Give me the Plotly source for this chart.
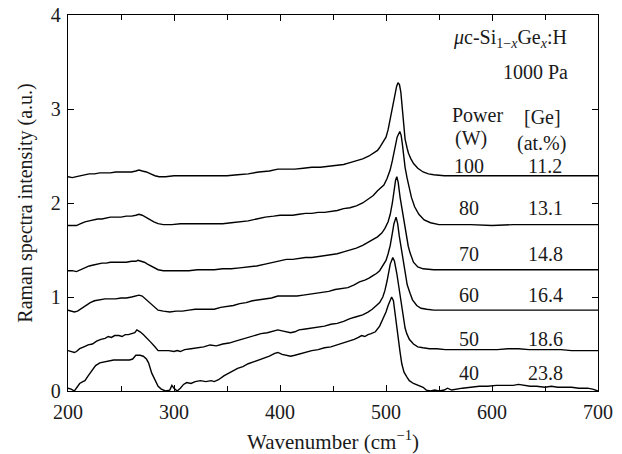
import plotly.graph_objects as go

# Raman spectra of uc-Si1-xGex:H films deposited at 1000 Pa, offset vertically by RF power

x40 = [200, 203, 206, 209, 211, 214, 216, 219, 222, 226, 230, 234, 238, 243, 248, 253, 258, 261, 264, 268,
       271, 274, 276, 279, 282, 285, 288, 292, 296, 298, 300, 303, 306, 309, 312, 316, 320, 325, 330, 335,
       338, 342, 347, 350, 355, 360, 365, 370, 375, 380, 385, 390, 395, 398, 402, 406, 410, 414, 420, 425,
       430, 436, 442, 448, 454, 460, 465, 470, 474, 477, 480, 483, 486, 490, 494, 497, 500, 502, 504, 505.3,
       507, 508.6, 510, 511.7, 513.3, 514.9, 517, 519.6, 522, 525.9, 530, 535, 538, 542, 546, 550, 555, 558,
       562, 566, 572, 580, 588, 596, 604, 612, 620, 625, 630, 636, 642, 650, 656, 662, 668, 675, 682, 690,
       695, 700]
y40 = [0.03, 0.02, 0.00, 0.05, 0.08, 0.10, 0.11, 0.16, 0.21, 0.27, 0.30, 0.31, 0.32, 0.33, 0.33, 0.33, 0.33, 0.34, 0.38, 0.38,
       0.37, 0.34, 0.30, 0.19, 0.11, 0.05, 0.02, 0.00, 0.01, 0.06, 0.03, 0.00, 0.03, 0.07, 0.09, 0.08, 0.10, 0.11, 0.10, 0.11,
       0.10, 0.12, 0.16, 0.18, 0.21, 0.24, 0.26, 0.29, 0.31, 0.33, 0.35, 0.37, 0.40, 0.41, 0.39, 0.38, 0.37, 0.38, 0.40, 0.41,
       0.43, 0.44, 0.46, 0.47, 0.49, 0.51, 0.53, 0.55, 0.57, 0.59, 0.58, 0.60, 0.61, 0.63, 0.69, 0.76, 0.84, 0.91, 0.97, 1.00,
       0.96, 0.81, 0.67, 0.54, 0.41, 0.29, 0.20, 0.15, 0.11, 0.08, 0.06, 0.04, 0.01, 0.00, 0.01, 0.00, 0.01, 0.03,
       0.01, 0.02, 0.03, 0.04, 0.05, 0.05, 0.06, 0.06, 0.06, 0.07, 0.06, 0.05, 0.05, 0.04, 0.05, 0.04, 0.04, 0.04, 0.03, 0.03,
       0.02, 0.00]

x50 = [200, 203, 206, 208, 211, 215, 219, 223, 227, 231, 235, 238, 241, 244, 248, 251, 254, 257, 260, 263,
       265, 268, 271, 274, 278, 282, 285, 290, 295, 300, 303, 306, 310, 316, 322, 328, 334, 340, 346, 352,
       358, 364, 370, 376, 382, 388, 394, 398, 402, 406, 410, 414, 418, 424, 430, 436, 442, 448, 454, 460,
       466, 472, 478, 483, 487, 491, 494, 497, 499, 501, 502.3, 504, 506.4, 508, 510.2, 511.8, 513.3, 515, 516.4, 518,
       519.6, 522, 525.9, 530, 535, 541, 548, 556, 565, 575, 585, 595, 605, 615, 625, 635, 645, 655, 665, 675,
       685, 695, 700]
y50 = [0.43, 0.42, 0.41, 0.42, 0.45, 0.47, 0.49, 0.50, 0.53, 0.55, 0.56, 0.58, 0.57, 0.59, 0.59, 0.58, 0.60, 0.60, 0.61, 0.62,
       0.65, 0.63, 0.60, 0.57, 0.52, 0.47, 0.43, 0.43, 0.43, 0.42, 0.43, 0.42, 0.44, 0.45, 0.46, 0.47, 0.49, 0.48, 0.50, 0.51,
       0.53, 0.55, 0.57, 0.59, 0.61, 0.62, 0.64, 0.65, 0.64, 0.63, 0.62, 0.63, 0.65, 0.66, 0.67, 0.68, 0.69, 0.71, 0.72, 0.74,
       0.77, 0.79, 0.81, 0.84, 0.87, 0.91, 0.94, 1.00, 1.07, 1.17, 1.25, 1.35, 1.42, 1.38, 1.25, 1.12, 1.00, 0.86, 0.75, 0.67,
       0.61, 0.55, 0.50, 0.47, 0.46, 0.45, 0.45, 0.44, 0.44, 0.44, 0.44, 0.44, 0.44, 0.45, 0.45, 0.44, 0.44, 0.44, 0.44, 0.43,
       0.43, 0.43, 0.43]

x60 = [200, 203, 206, 209, 213, 217, 221, 225, 230, 235, 240, 245, 250, 255, 260, 264, 267, 270, 273, 277,
       281, 285, 290, 296, 302, 308, 314, 320, 326, 332, 338, 344, 350, 356, 362, 368, 374, 380, 386, 392,
       398, 404, 410, 416, 422, 428, 434, 440, 446, 452, 458, 464, 470, 475, 480, 484, 488, 491, 494, 497,
       500, 502, 504, 506, 507.5, 509.5, 511, 512.5, 514, 515.5, 518, 520, 522.7, 525, 529, 533, 538.5, 545, 555, 570,
       585, 600, 615, 630, 645, 660, 675, 690, 700]
y60 = [0.86, 0.85, 0.84, 0.85, 0.88, 0.91, 0.94, 0.96, 0.97, 0.98, 0.98, 0.98, 0.99, 0.99, 1.00, 1.01, 1.02, 1.01, 0.98, 0.95,
       0.90, 0.86, 0.85, 0.84, 0.85, 0.85, 0.86, 0.87, 0.87, 0.87, 0.87, 0.89, 0.90, 0.91, 0.93, 0.94, 0.96, 0.97, 0.98, 0.99,
       1.01, 1.01, 1.01, 1.01, 1.02, 1.03, 1.04, 1.05, 1.06, 1.08, 1.09, 1.10, 1.13, 1.16, 1.18, 1.20, 1.23, 1.25, 1.28, 1.33,
       1.39, 1.46, 1.55, 1.68, 1.78, 1.85, 1.78, 1.65, 1.55, 1.45, 1.25, 1.13, 1.04, 0.97, 0.91, 0.88, 0.87, 0.86, 0.86, 0.86,
       0.86, 0.86, 0.86, 0.86, 0.86, 0.86, 0.86, 0.86, 0.86]

x70 = [200, 204, 208, 212, 216, 220, 224, 228, 232, 236, 240, 245, 250, 255, 260, 264, 266, 269, 272, 275,
       278, 281, 285, 290, 298, 306, 314, 322, 330, 338, 346, 354, 362, 370, 378, 386, 394, 400, 406, 412,
       418, 424, 430, 436, 442, 448, 454, 460, 466, 472, 478, 483, 488, 492, 496, 499, 502, 504, 506, 507.5,
       509, 510.2, 511.5, 513.3, 515, 516.4, 518, 519.6, 521, 522.7, 525.9, 530, 535, 545, 560, 580, 600, 620, 640, 660,
       680, 700]
y70 = [1.28, 1.28, 1.27, 1.29, 1.31, 1.33, 1.34, 1.35, 1.36, 1.36, 1.37, 1.37, 1.37, 1.37, 1.38, 1.38, 1.39, 1.38, 1.37, 1.35,
       1.33, 1.31, 1.29, 1.28, 1.28, 1.28, 1.28, 1.29, 1.29, 1.29, 1.30, 1.30, 1.31, 1.32, 1.33, 1.35, 1.37, 1.39, 1.40, 1.40,
       1.41, 1.42, 1.42, 1.43, 1.44, 1.45, 1.46, 1.48, 1.50, 1.52, 1.55, 1.58, 1.61, 1.64, 1.68, 1.73, 1.80, 1.88, 2.00, 2.14,
       2.24, 2.28, 2.22, 2.06, 1.94, 1.85, 1.74, 1.62, 1.54, 1.47, 1.37, 1.32, 1.30, 1.29, 1.29, 1.29, 1.29, 1.29, 1.29, 1.29,
       1.29, 1.29]

x80 = [200, 204, 208, 212, 216, 220, 224, 228, 232, 236, 240, 245, 250, 255, 260, 264, 267, 270, 273, 277,
       281, 285, 290, 298, 306, 314, 322, 330, 338, 346, 354, 362, 370, 378, 386, 394, 400, 406, 412, 418,
       424, 430, 436, 442, 448, 454, 460, 466, 472, 478, 483, 488, 492, 495, 498, 501, 503.9, 506, 508.6, 510.5,
       513, 514.3, 515.3, 516.5, 518, 520, 522, 524, 527, 531, 536, 542, 550, 565, 580, 600, 620, 640, 660, 680,
       700]
y80 = [1.76, 1.76, 1.76, 1.78, 1.80, 1.81, 1.82, 1.83, 1.83, 1.84, 1.85, 1.85, 1.85, 1.86, 1.86, 1.87, 1.88, 1.87, 1.85, 1.83,
       1.80, 1.78, 1.77, 1.77, 1.78, 1.78, 1.78, 1.78, 1.78, 1.78, 1.79, 1.80, 1.81, 1.83, 1.85, 1.86, 1.87, 1.87, 1.87, 1.88,
       1.89, 1.89, 1.90, 1.90, 1.91, 1.92, 1.94, 1.95, 1.97, 2.00, 2.04, 2.08, 2.13, 2.16, 2.19, 2.26, 2.35, 2.45, 2.60, 2.70,
       2.76, 2.72, 2.64, 2.50, 2.38, 2.26, 2.16, 2.06, 1.96, 1.88, 1.82, 1.79, 1.77, 1.77, 1.77, 1.76, 1.77, 1.77, 1.77, 1.77,
       1.77]

x100 = [200, 204, 208, 212, 216, 220, 225, 230, 235, 240, 245, 250, 255, 260, 264, 267, 270, 274, 278, 282,
        286, 292, 300, 310, 320, 330, 340, 350, 360, 370, 380, 390, 398, 406, 414, 422, 430, 438, 446, 454,
        460, 466, 472, 478, 484, 488, 492, 494, 497, 500, 502, 504, 506, 508, 510, 511.3, 512.7, 514, 515.2, 516.4,
        518, 520, 521.2, 523.5, 526, 530, 535, 540, 545, 555, 570, 590, 610, 630, 650, 670, 690, 700]
y100 = [2.28, 2.27, 2.28, 2.29, 2.30, 2.31, 2.31, 2.32, 2.32, 2.32, 2.33, 2.33, 2.33, 2.33, 2.34, 2.35, 2.34, 2.33, 2.31, 2.29,
        2.28, 2.28, 2.29, 2.29, 2.29, 2.29, 2.29, 2.29, 2.30, 2.31, 2.33, 2.34, 2.36, 2.36, 2.36, 2.37, 2.38, 2.38, 2.39, 2.40,
        2.41, 2.43, 2.45, 2.47, 2.50, 2.53, 2.56, 2.59, 2.64, 2.70, 2.78, 2.90, 3.02, 3.13, 3.24, 3.28, 3.26, 3.18, 3.02, 2.84,
        2.68, 2.58, 2.53, 2.47, 2.42, 2.37, 2.33, 2.31, 2.30, 2.29, 2.29, 2.29, 2.29, 2.29, 2.29, 2.29, 2.29, 2.29]

series = [(x40, y40), (x50, y50), (x60, y60), (x70, y70), (x80, y80), (x100, y100)]

# Row labels: RF power (W) and Ge content (at.%)
power_labels = ["40", "50", "60", "70", "80", "100"]
ge_labels = ["23.8", "18.6", "16.4", "14.8", "13.1", "11.2"]
label_y = [0.19, 0.555, 1.02, 1.46, 1.95, 2.39]

FONT = "Liberation Serif, Times New Roman, serif"
INK = "#1a1a1a"

fig = go.Figure()
for xs, ys in series:
    fig.add_trace(go.Scatter(x=xs, y=ys, mode="lines",
                             line=dict(color="black", width=1.4),
                             showlegend=False, hoverinfo="skip"))

annotations = []
for p, g, yv in zip(power_labels, ge_labels, label_y):
    annotations.append(dict(x=578.5, y=yv, text=p, showarrow=False, xanchor="center", yanchor="middle"))
    annotations.append(dict(x=650, y=yv, text=g, showarrow=False, xanchor="center", yanchor="middle"))

annotations += [
    dict(x=617, y=3.75, text="<i>μ</i>c-Si<sub>1−<i>x</i></sub>Ge<sub><i>x</i></sub>:H",
         showarrow=False, xanchor="center", yanchor="middle"),
    dict(x=641, y=3.39, text="1000 Pa", showarrow=False, xanchor="center", yanchor="middle"),
    dict(x=586, y=2.94, text="Power", showarrow=False, xanchor="center", yanchor="middle"),
    dict(x=580, y=2.69, text="(W)", showarrow=False, xanchor="center", yanchor="middle"),
    dict(x=648, y=2.91, text="[Ge]", showarrow=False, xanchor="center", yanchor="middle"),
    dict(x=647, y=2.635, text="(at.%)", showarrow=False, xanchor="center", yanchor="middle"),
]

axis_common = dict(showline=True, linecolor="black", linewidth=1.3, mirror="allticks",
                   ticks="inside", ticklen=6, tickwidth=1.2, tickcolor="black",
                   showgrid=False, zeroline=False, automargin=False,
                   tickfont=dict(family=FONT, size=20, color=INK))

fig.update_layout(
    width=622, height=454,
    margin=dict(l=68, r=24, t=15, b=63),
    paper_bgcolor="white", plot_bgcolor="white",
    font=dict(family=FONT, size=20, color=INK),
    annotations=annotations,
    xaxis=dict(range=[200, 700], dtick=100, tick0=200, ticklabelstandoff=3,
               minor=dict(dtick=50, ticks="inside", ticklen=5, tickwidth=1.2, tickcolor="black"),
               title=dict(text="Wavenumber (cm<sup>−1</sup>)", font=dict(family=FONT, size=21, color=INK),
                          standoff=12),
               **axis_common),
    yaxis=dict(range=[0, 4], dtick=1, tick0=0, ticklabelstandoff=2,
               title=dict(text="Raman spectra intensity (a.u.)", font=dict(family=FONT, size=20, color=INK),
                          standoff=12),
               **axis_common),
)

fig.write_html("out.html")
